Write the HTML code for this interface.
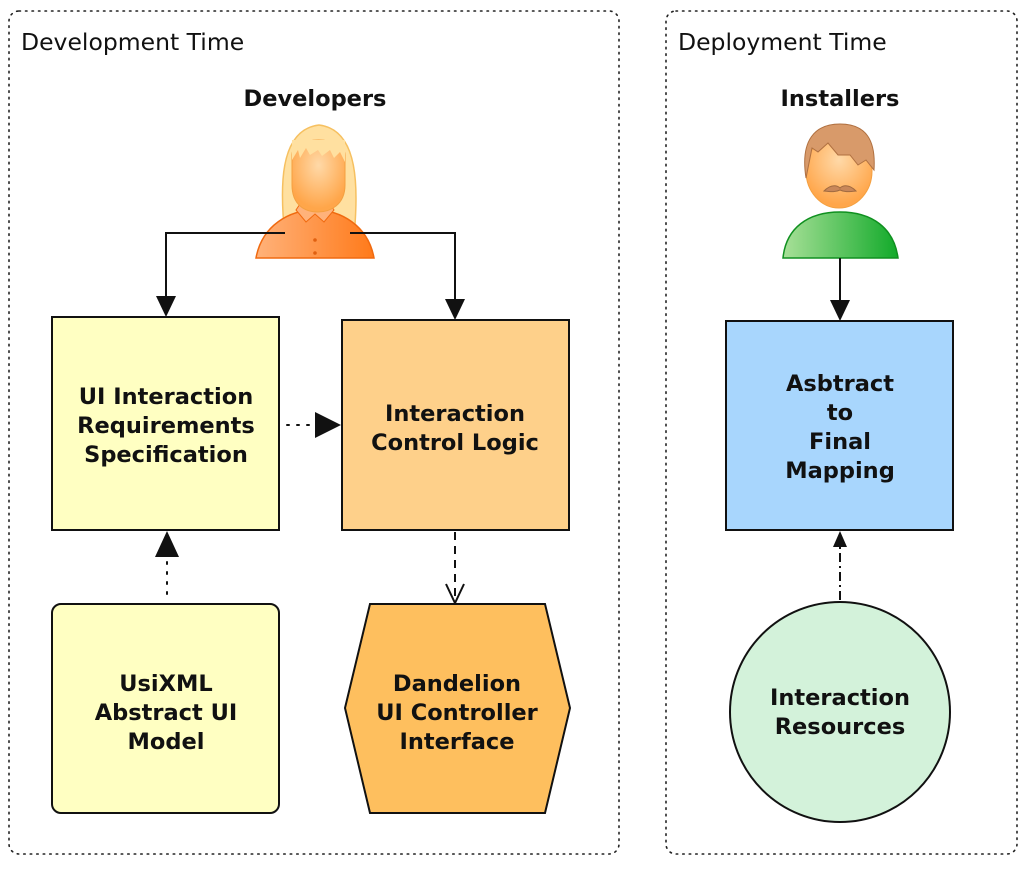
<!DOCTYPE html>
<html><head><style>body{margin:0;background:#fff}svg{display:block}</style></head><body>
<svg width="1024" height="869" viewBox="0 0 1024 869" xmlns="http://www.w3.org/2000/svg" font-family="DejaVu Sans, sans-serif">
<defs>
<linearGradient id="og" x1="0" x2="1"><stop offset="0" stop-color="#ffb27a"/><stop offset="1" stop-color="#ff7a1a"/></linearGradient>
<linearGradient id="gg" x1="0" x2="1"><stop offset="0" stop-color="#a8e098"/><stop offset="1" stop-color="#12aa2a"/></linearGradient>
<radialGradient id="face" cx="0.5" cy="0.35" r="0.6"><stop offset="0" stop-color="#ffd9a8"/><stop offset="1" stop-color="#ffa64a"/></radialGradient>
</defs>
<rect x="9" y="11" width="610" height="843" rx="10" fill="none" stroke="#222" stroke-width="1.6" stroke-dasharray="1.5 5" stroke-linecap="round"/>
<rect x="666" y="11" width="351" height="843" rx="10" fill="none" stroke="#222" stroke-width="1.6" stroke-dasharray="1.5 5" stroke-linecap="round"/>
<text x="21" y="50" font-size="23.5" fill="#111">Development Time</text>
<text x="678" y="50" font-size="23.5" fill="#111">Deployment Time</text>
<g font-weight="bold" font-size="22.5" fill="#111" text-anchor="middle">
<text x="315" y="106">Developers</text>
<text x="840" y="106">Installers</text>
</g>
<!-- female -->
<path d="M285 238 C280 190 278 130 319 125 C360 130 358 190 354 238 Z" fill="#ffe0a0" stroke="#f6c060" stroke-width="1.5"/>
<path d="M256 258 C262 225 290 210 315 210 C340 210 368 225 374 258 Z" fill="url(#og)" stroke="#f06a10" stroke-width="1.5"/>
<path d="M296 210 L306 222 L315 214 L324 222 L334 210 L326 198 L304 198 Z" fill="#ffb27a" stroke="#f06a10"/>
<path d="M292 155 C292 135 345 135 345 155 L345 185 C345 205 330 212 318 212 C305 212 292 205 292 185 Z" fill="url(#face)" stroke="#f4a040"/>
<path d="M292 160 L298 150 L300 158 L306 148 L310 155 L318 150 L322 156 L330 150 L334 158 L340 152 L345 162 L345 140 L292 140 Z" fill="#ffe0a0"/>
<circle cx="315" cy="240" r="1.8" fill="#e06010"/><circle cx="315" cy="253" r="1.8" fill="#e06010"/>
<!-- male -->
<path d="M783 258 C786 228 808 212 840 212 C872 212 894 228 898 258 Z" fill="url(#gg)" stroke="#109020" stroke-width="1.5"/>
<ellipse cx="839" cy="171" rx="33" ry="37" fill="url(#face)" stroke="#f4a040"/>
<path d="M806 178 C800 140 815 124 840 124 C866 124 876 140 874 170 L866 160 L858 165 L850 155 L838 155 L828 143 L818 152 L812 148 Z" fill="#d89a6a" stroke="#b07040"/>
<path d="M824 191 C832 183 838 186 840 188 C842 186 848 183 856 191 C848 192 844 192 840 190 C836 192 832 192 824 191 Z" fill="#c8875a" stroke="#a06a40"/>
<!-- connectors -->
<g stroke="#111" stroke-width="2" fill="none">
<path d="M285 233 H166 V300"/>
<path d="M350 233 H455 V303"/>
<path d="M840 258 V304"/>
<path d="M287 425 H316" stroke-dasharray="2 8" stroke-linecap="round"/>
<path d="M167 594 V558" stroke-dasharray="2 8" stroke-linecap="round"/>
<path d="M455 532 V600" stroke-dasharray="8 6"/>
<path d="M840 600 V536" stroke-dasharray="9 4 2 4"/>
<path d="M446 584 L455 603 L464 584"/>
</g>
<g fill="#111">
<path d="M156 296 L166 317 L176 296 Z"/>
<path d="M445 299 L455 320 L465 299 Z"/>
<path d="M830 300 L840 321 L850 300 Z"/>
<path d="M315 412 L341 425 L315 438 Z"/>
<path d="M155 557 L167 531 L179 557 Z"/>
<path d="M833 547 L840 531 L847 547 Z"/>
</g>
<!-- boxes -->
<rect x="52" y="317" width="227" height="213" fill="#ffffc2" stroke="#111" stroke-width="2"/>
<rect x="342" y="320" width="227" height="210" fill="#fed08a" stroke="#111" stroke-width="2"/>
<rect x="52" y="604" width="227" height="209" rx="9" fill="#ffffc2" stroke="#111" stroke-width="2"/>
<polygon points="370,604 545,604 570,708 545,813 370,813 345,708" fill="#febf5e" stroke="#111" stroke-width="2"/>
<rect x="726" y="321" width="227" height="209" fill="#a8d6fd" stroke="#111" stroke-width="2"/>
<circle cx="840" cy="712" r="110" fill="#d3f2da" stroke="#111" stroke-width="2"/>
<g font-weight="bold" font-size="22.5" fill="#111" text-anchor="middle">
<text x="166" y="404">UI Interaction</text><text x="166" y="433">Requirements</text><text x="166" y="462">Specification</text>
<text x="455" y="421">Interaction</text><text x="455" y="450">Control Logic</text>
<text x="166" y="691">UsiXML</text><text x="166" y="720">Abstract UI</text><text x="166" y="749">Model</text>
<text x="457" y="691">Dandelion</text><text x="457" y="720">UI Controller</text><text x="457" y="749">Interface</text>
<text x="840" y="391">Asbtract</text><text x="840" y="420">to</text><text x="840" y="449">Final</text><text x="840" y="478">Mapping</text>
<text x="840" y="705">Interaction</text><text x="840" y="734">Resources</text>
</g>
</svg>
</body></html>
